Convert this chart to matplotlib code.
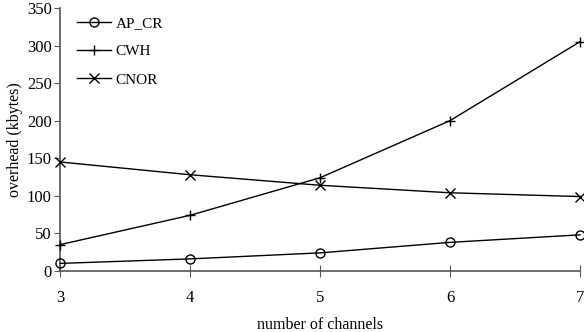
import matplotlib
matplotlib.use("Agg")
import matplotlib.pyplot as plt

plt.rcParams['font.family'] = ['Liberation Serif', 'DejaVu Serif']

channels = [3, 4, 5, 6, 7]
ap_cr = [10, 16, 24, 38, 48]
cwh = [35, 74, 124, 200, 305]
cnor = [145, 128, 114, 104, 99]

fig = plt.figure(figsize=(5.84, 3.32), dpi=100)
ax = fig.add_axes([0.103, 0.184, 0.89, 0.792])

ax.plot(channels, ap_cr, color='black', lw=1, marker='o', ms=6.5,
        mfc='none', mew=1, label='AP_CR')
ax.plot(channels, cwh, color='black', lw=1, marker='+', ms=7,
        mew=1, label='CWH')
ax.plot(channels, cnor, color='black', lw=1, marker='x', ms=6.5,
        mew=1, label='CNOR')

ax.set_xlim(3, 7)
ax.set_ylim(0, 350)
ax.set_xticks(channels)
ax.set_yticks(range(0, 351, 50))

for side in ['top', 'right']:
    ax.spines[side].set_visible(False)
for side in ['left', 'bottom']:
    ax.spines[side].set_color('#555555')
    ax.spines[side].set_linewidth(1.2)
    ax.spines[side].set_zorder(1)

ax.tick_params(axis='x', direction='inout', length=8, color='#555555',
               labelsize=12, pad=10)
ax.tick_params(axis='y', direction='out', length=4, color='#555555',
               labelsize=12, pad=2)

ax.set_xlabel('number of channels', fontsize=11.5, labelpad=8)
ax.set_ylabel('overhead (kbytes)', fontsize=11.5, labelpad=3)

ax.legend(loc='upper left', bbox_to_anchor=(0.006, 1.02), frameon=False,
          fontsize=11, handlelength=2.2, labelspacing=0.95,
          handletextpad=0.33)

for line in ax.lines:
    line.set_clip_on(False)

fig.savefig('out.png', dpi=100)
